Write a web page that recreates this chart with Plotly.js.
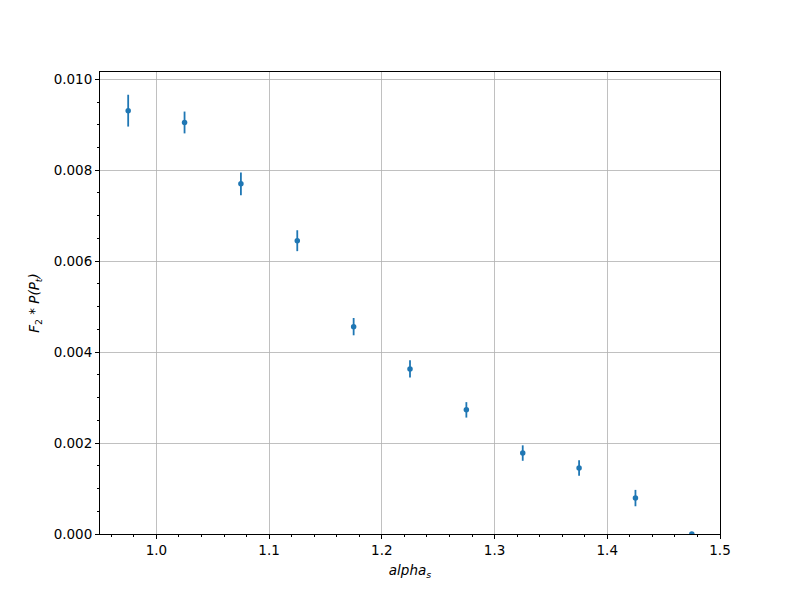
<!DOCTYPE html>
<html><head><meta charset="utf-8">
<script src="https://cdn.plot.ly/plotly-3.0.1.min.js"></script>
<style>body{margin:0}</style></head>
<body><div id="chart" style="width:800px;height:600px"></div>
<script>
const alphaS = [0.975, 1.025, 1.075, 1.125, 1.175, 1.225, 1.275, 1.325, 1.375, 1.425, 1.475];
const values = [0.00931, 0.00905, 0.00770, 0.00645, 0.00456, 0.00363, 0.00273, 0.00178, 0.00145, 0.00079, 0.0];
const errors = [0.00035, 0.00024, 0.00025, 0.00023, 0.00019, 0.00019, 0.00017, 0.00017, 0.00017, 0.00018, 0.0];

const font = {family: 'DejaVu Sans', size: 13.5, color: '#000'};
const trace = {
  x: alphaS, y: values, type: 'scatter', mode: 'markers',
  marker: {color: '#1f77b4', size: 5.5},
  error_y: {type: 'data', array: errors, visible: true, color: '#1f77b4', thickness: 1.8, width: 0},
  cliponaxis: true
};
const axisCommon = {
  showline: true, linecolor: '#000', linewidth: 1, mirror: true,
  ticks: 'outside', ticklen: 4, tickwidth: 1, tickcolor: '#000',
  showgrid: true, gridcolor: '#b0b0b0', gridwidth: 0.8, zeroline: false,
  tickfont: font
};
const layout = {
  width: 800, height: 600,
  margin: {l: 100, r: 80, t: 72, b: 66},
  paper_bgcolor: '#fff', plot_bgcolor: '#fff',
  showlegend: false,
  font: font,
  xaxis: Object.assign({}, axisCommon, {
    range: [0.95, 1.5], dtick: 0.1, tick0: 1.0, tickformat: '.1f',
    minor: {dtick: 0.02, tick0: 1.0, ticks: 'outside', ticklen: 2, tickcolor: '#000', showgrid: false},
    title: {text: '<i>alpha</i><sub><i>s</i></sub>', font: font, standoff: 8}
  }),
  yaxis: Object.assign({}, axisCommon, {
    range: [0, 0.01016], dtick: 0.002, tick0: 0, tickformat: '.3f',
    minor: {dtick: 0.0005, tick0: 0, ticks: 'outside', ticklen: 2, tickcolor: '#000', showgrid: false},
    title: {text: '<i>F</i><sub>2</sub><i> * P(P</i><sub><i>t</i></sub><i>)</i>', font: font, standoff: 10}
  })
};
Plotly.newPlot('chart', [trace], layout, {displayModeBar: false, staticPlot: true});
</script></body></html>
